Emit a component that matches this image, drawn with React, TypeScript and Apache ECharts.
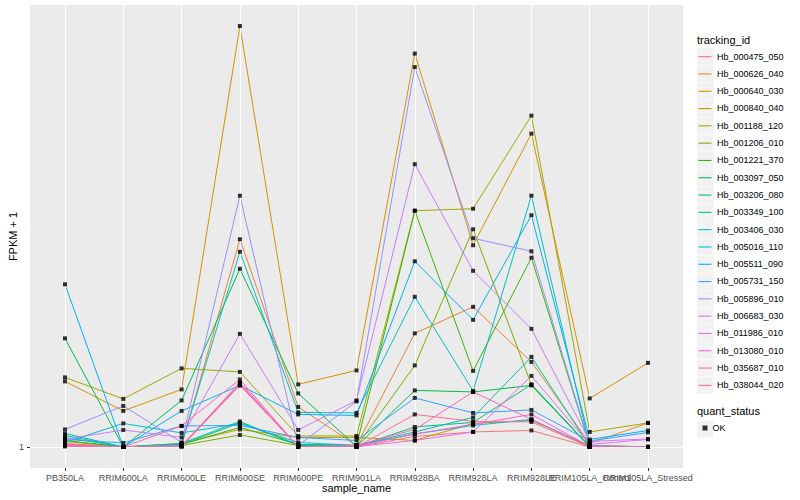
import React, { useEffect, useRef } from 'react';
import * as echarts from 'echarts';

const categories = [
  'PB350LA', 'RRIM600LA', 'RRIM600LE', 'RRIM600SE', 'RRIM600PE', 'RRIM901LA',
  'RRIM928BA', 'RRIM928LA', 'RRIM928LE', 'RRIM105LA_Control', 'RRIM105LA_Stressed',
];

const trackingIds = [
  'Hb_000475_050', 'Hb_000626_040', 'Hb_000640_030', 'Hb_000840_040', 'Hb_001188_120',
  'Hb_001206_010', 'Hb_001221_370', 'Hb_003097_050', 'Hb_003206_080', 'Hb_003349_100',
  'Hb_003406_030', 'Hb_005016_110', 'Hb_005511_090', 'Hb_005731_150', 'Hb_005896_010',
  'Hb_006683_030', 'Hb_011986_010', 'Hb_013080_010', 'Hb_035687_010', 'Hb_038044_020',
];

const colors = [
  '#F8766D', '#EA8331', '#D89000', '#C09B00', '#A3A500', '#7CAE00', '#39B600', '#00BB4E',
  '#00BF7D', '#00C1A3', '#00BFC4', '#00BAE0', '#00B0F6', '#35A2FF', '#9590FF', '#C77CFF',
  '#E76BF3', '#FA62DB', '#FF62BC', '#FF6C91',
];

const hb000475 = [1.03, 1, 1.01, 2.23, 1.01, 1, 1.21, 1.30, 1.33, 1, 1];
const hb000626 = [1.07, 1, 1.03, 5.15, 1.80, 1.03, 3.27, 3.80, 2.70, 1.07, 1.48];
const hb000640 = [2.31, 1.72, 2.15, 9.41, 2.25, 2.53, 8.86, 5.03, 7.26, 1.97, 2.68];
const hb000840 = [1.11, 1, 1.07, 1.35, 1.19, 1.19, 1.13, 1.47, 1.53, 1.03, 1];
const hb001188 = [2.39, 1.96, 2.57, 2.50, 1.22, 1.22, 5.72, 5.76, 7.62, 1.30, 1.48];
const hb001206 = [1.05, 1, 1.03, 1.24, 1.03, 1.01, 2.63, 5.35, 2.24, 1.01, 1];
const hb001221 = [1.13, 1, 1.05, 1.39, 1.05, 1.03, 5.72, 2.52, 4.78, 1.03, 1];
const hb003097 = [3.17, 1, 1.93, 4.56, 2.07, 1.01, 2.13, 2.10, 2.23, 1, 1];
const hb003206 = [1.27, 1, 1.07, 1.51, 1.03, 1.01, 1.40, 1.49, 2.25, 1.01, 1];
const hb003349 = [1.23, 1, 1.05, 1.48, 1.05, 1.03, 1.30, 1.59, 2.80, 1.01, 1];
const hb003406 = [1.19, 1, 1.05, 4.90, 1.69, 1.68, 4.00, 2.12, 6.02, 1.01, 1];
const hb005016 = [1.09, 1.47, 1.28, 1.47, 1.09, 1.03, 1.26, 1.43, 1.55, 1.01, 1];
const hb005511 = [4.25, 1, 1.72, 2.23, 1.65, 1.63, 4.71, 3.54, 5.63, 1.15, 1.33];
const hb005731 = [1.15, 1.08, 1.42, 1.43, 1.19, 1.13, 1.98, 1.68, 1.74, 1.12, 1.29];
const hb005896 = [1.35, 1.82, 1.09, 6.02, 1.03, 1.91, 8.59, 5.17, 4.91, 1.03, 1];
const hb006683 = [1.15, 1.34, 1.19, 3.26, 1.34, 1.93, 6.65, 4.52, 3.36, 1.11, 1.16];
const hb011986 = [1.05, 1, 1.03, 2.27, 1.01, 1.01, 1.13, 1.30, 2.42, 1.05, 1.15];
const hb013080 = [1.03, 1, 1.01, 2.25, 1, 1.01, 1.26, 1.45, 1.65, 1.01, 1];
const hb035687 = [1.03, 1, 1.42, 2.35, 1, 1.03, 1.35, 2.10, 1.55, 1, 1];
const hb038044 = [1.01, 1, 1.01, 2.29, 1, 1, 1.65, 1.51, 1.50, 1, 1];

const seriesValues = [
  hb000475, hb000626, hb000640, hb000840, hb001188, hb001206, hb001221, hb003097,
  hb003206, hb003349, hb003406, hb005016, hb005511, hb005731, hb005896, hb006683,
  hb011986, hb013080, hb035687, hb038044,
];

const yTickValues = [1];
const yTickLabels = ['1'];
const quantStatus = ['OK'];

const FONT = 'Liberation Sans, Arial, Helvetica, sans-serif';

export default function App() {
  const ref = useRef<HTMLDivElement>(null);

  useEffect(() => {
    if (!ref.current) return;
    const chart = echarts.init(ref.current, null, { renderer: 'svg' });

    const xPositions = categories.map((_, i) => i + 1);
    const xOdd = xPositions.filter((_, i) => i % 2 === 0);
    const xEven = xPositions.filter((_, i) => i % 2 === 1);

    // data range & ggplot-like 5% expansion
    let dMin = Infinity;
    let dMax = -Infinity;
    seriesValues.forEach((arr) => arr.forEach((v) => {
      dMin = Math.min(dMin, v);
      dMax = Math.max(dMax, v);
    }));
    const span = dMax - dMin;
    const yMin = dMin - span * 0.05;
    const yMax = dMax + span * 0.05;
    const xMin = 1 - 0.6;
    const xMax = categories.length + 0.6;

    const lineSeries = trackingIds.map((id, k) => ({
      name: id,
      type: 'line',
      symbol: 'none',
      z: 3,
      silent: true,
      data: seriesValues[k].map((v, i) => [i + 1, v]),
      lineStyle: { color: colors[k], width: 1 },
      itemStyle: { color: colors[k] },
    }));

    const points: number[][] = [];
    seriesValues.forEach((arr) => arr.forEach((v, i) => points.push([i + 1, v])));

    const keyTop = 48;
    const keyStep = 17.3;
    const graphics: any[] = [
      {
        type: 'text', left: 697, top: 34,
        style: { text: 'tracking_id', fontSize: 11, fontFamily: FONT, fill: '#000' },
      },
    ];
    trackingIds.forEach((_, i) => {
      const cy = keyTop + keyStep * i + keyStep / 2;
      graphics.push({
        type: 'rect', z: 0,
        shape: { x: 697, y: keyTop + keyStep * i + 0.3, width: 16.5, height: keyStep - 0.6 },
        style: { fill: '#F2F2F2' },
      });
      graphics.push({
        type: 'line', z: 1,
        shape: { x1: 698.5, y1: cy, x2: 711.5, y2: cy },
        style: { stroke: colors[i], lineWidth: 1.1 },
      });
    });
    graphics.push({
      type: 'text', left: 697, top: 405,
      style: { text: 'quant_status', fontSize: 11, fontFamily: FONT, fill: '#000' },
    });
    graphics.push({
      type: 'rect', z: 0,
      shape: { x: 697, y: 420.5, width: 16.5, height: 17 },
      style: { fill: '#F2F2F2' },
    });

    const xAxisBase = (labelValues: number[], withName: boolean) => ({
      type: 'value',
      min: xMin,
      max: xMax,
      position: 'bottom',
      offset: 0,
      name: withName ? 'sample_name' : '',
      nameLocation: 'middle',
      nameGap: 14,
      nameMoveOverlap: false,
      nameTextStyle: { fontSize: 11, color: '#000', fontFamily: FONT },
      axisLine: { show: false },
      splitLine: { show: false },
      axisTick: {
        show: true, length: 3, customValues: labelValues,
        lineStyle: { color: '#333333', width: 1 },
      },
      axisLabel: {
        show: true, customValues: labelValues, margin: 5, hideOverlap: false,
        showMinLabel: true, showMaxLabel: true,
        fontSize: 9, color: '#4D4D4D', fontFamily: FONT,
        formatter: (v: number) => categories[Math.round(v) - 1] ?? '',
      },
    });

    chart.setOption({
      animation: false,
      backgroundColor: '#FFFFFF',
      textStyle: { fontFamily: FONT },
      grid: {
        left: 30, right: 117, top: 5, bottom: 32,
        show: true, backgroundColor: '#EBEBEB', borderWidth: 0,
        containLabel: false,
        outerBoundsMode: 'none',
      },
      xAxis: [xAxisBase(xOdd, true), xAxisBase(xEven, false)],
      yAxis: {
        type: 'value',
        min: yMin,
        max: yMax,
        name: 'FPKM + 1',
        nameLocation: 'middle',
        nameGap: 12,
        nameMoveOverlap: false,
        nameTextStyle: { fontSize: 11, color: '#000', fontFamily: FONT },
        axisLine: { show: false },
        splitLine: { show: false },
        axisTick: {
          show: true, length: 3, customValues: yTickValues,
          lineStyle: { color: '#333333', width: 1 },
        },
        axisLabel: {
          show: true, customValues: yTickValues, margin: 6,
          showMinLabel: true, showMaxLabel: true,
          fontSize: 9, color: '#4D4D4D', fontFamily: FONT,
          formatter: (v: number) => {
            const idx = yTickValues.findIndex((t) => Math.abs(t - v) < 1e-9);
            return idx >= 0 ? yTickLabels[idx] : '';
          },
        },
      },
      legend: [
        {
          data: trackingIds.map((name) => ({ name, icon: 'rect' })),
          orient: 'vertical',
          left: 698,
          top: keyTop,
          itemWidth: 14,
          itemHeight: 17,
          itemGap: 0.3,
          itemTextGap: 5,
          selectedMode: false,
          padding: 0,
          itemStyle: { color: 'rgba(0,0,0,0)', borderWidth: 0, opacity: 0 },
          lineStyle: { width: 0, opacity: 0 },
          textStyle: { fontSize: 9, color: '#000', fontFamily: FONT },
        },
        {
          data: [{ name: quantStatus[0], icon: 'rect' }],
          orient: 'vertical',
          left: 702.5,
          top: 423.5,
          itemWidth: 5,
          itemHeight: 5,
          itemTextGap: 9.5,
          selectedMode: false,
          padding: 0,
          textStyle: { fontSize: 9, color: '#000', fontFamily: FONT },
        },
      ],
      graphic: graphics,
      series: [
        {
          name: 'grid',
          type: 'line',
          z: 1,
          symbol: 'none',
          silent: true,
          data: [[1, 1]],
          lineStyle: { width: 0, opacity: 0 },
          markLine: {
            silent: true,
            symbol: ['none', 'none'],
            label: { show: false },
            emphasis: { disabled: true },
            lineStyle: { color: '#FFFFFF', width: 1.1, type: 'solid' },
            data: [
              ...yTickValues.map((v) => ({ yAxis: v })),
              ...xPositions.map((x) => ({ xAxis: x })),
            ],
          },
        },
        ...lineSeries,
        {
          name: quantStatus[0],
          type: 'scatter',
          z: 5,
          silent: true,
          symbol: 'rect',
          symbolSize: 4,
          itemStyle: { color: '#000000' },
          data: points,
        },
      ],
    });

    return () => chart.dispose();
  }, []);

  return (
    <div
      ref={ref}
      style={{ position: 'fixed', left: 0, top: 0, width: 800, height: 500 }}
    />
  );
}
